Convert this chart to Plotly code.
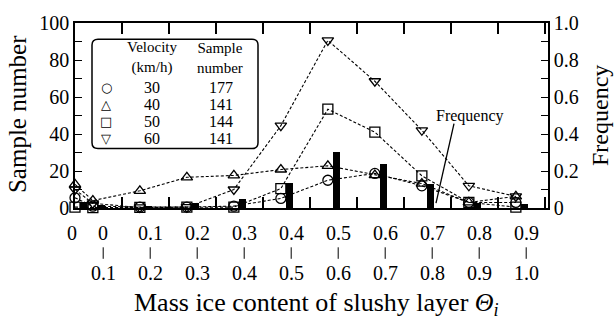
import plotly.graph_objects as go

# ---------------- data ----------------
bin_top = ["0", "0.1", "0.2", "0.3", "0.4", "0.5", "0.6", "0.7", "0.8", "0.9"]
bin_bot = ["0.1", "0.2", "0.3", "0.4", "0.5", "0.6", "0.7", "0.8", "0.9", "1.0"]
zero_label = "0"
# first value = exactly 0 (left edge), then the ten bins
v30 = [5.5, 1, 0.5, 0.5, 1, 5.2, 15, 18.7, 12, 3, 3]
v40 = [12.8, 4, 9.3, 16.6, 17.6, 20.8, 22.8, 17.8, 13.2, 3, 6.3]
v50 = [0.5, 0.2, 0.3, 0.5, 0.5, 10.5, 53.4, 41, 17.4, 3, 0.5]
v60 = [10, 2.5, 0.3, 0.5, 10, 44.5, 90.6, 68.5, 42, 12, 6.3]
freq = [0.03, 0.015, 0.008, 0.025, 0.05, 0.135, 0.305, 0.24, 0.13, 0.025, 0.02]
velocity = ["30", "40", "50", "60"]
samples = ["177", "141", "144", "141"]
left_ticks = [0, 20, 40, 60, 80, 100]
right_ticks = ["0", "0.2", "0.4", "0.6", "0.8", "1.0"]

# ---------------- layout geometry ----------------
L, R, T, B = 75, 548, 15, 208
W, H = 614, 322
UNIT = 47.0  # px per bin
XMAX = (R - L) / UNIT

def px(X):
    return (X - L) / (R - L)

def py(Y):
    return (B - Y) / (B - T)

def dx(xv):
    return L + xv * UNIT

nb = len(bin_top)
x_pts = [0.0] + [k + 0.38 for k in range(nb)]
x_bars = [0.19] + [k + 0.57 for k in range(nb)]

serif = "Liberation Serif, Times New Roman, serif"
fig = go.Figure()

# frequency bars (right axis)
fig.add_trace(go.Bar(x=x_bars, y=freq, width=0.15, marker=dict(color="black", line=dict(width=0)),
                     yaxis="y2", showlegend=False))

series = [(v30, "circle-open"), (v40, "triangle-up-open"), (v50, "square-open"), (v60, "triangle-down-open")]
for vals, sym in series:
    fig.add_trace(go.Scatter(
        x=x_pts, y=vals, mode="lines+markers", cliponaxis=False, showlegend=False,
        line=dict(color="black", width=1.1, dash="3px,2px"),
        marker=dict(symbol=sym, size=10, color="black", line=dict(color="black", width=1.3)),
    ))

# ---------------- annotations ----------------
ann = []
shapes = []

def text(X, Y, s, size, family=serif, angle=0):
    ann.append(dict(x=px(X), y=py(Y), xref="paper", yref="paper", text=s, showarrow=False,
                    textangle=angle, font=dict(family=family, size=size, color="black"),
                    xanchor="center", yanchor="middle"))

text(72, 234, zero_label, 20)
for k in range(nb):
    X = dx(k + 0.6)
    text(X, 234, bin_top[k], 20)
    text(X, 276, bin_bot[k], 20)
    shapes.append(dict(type="line", xref="paper", yref="paper", x0=px(X), x1=px(X), y0=py(249), y1=py(261),
                       line=dict(color="black", width=1)))

# axis titles
text(316, 308, "Mass ice content of slushy layer <i>Θ<sub>i</sub></i>", 26)
text(17, 110, "Sample number", 25, angle=-90)
text(600, 112, "Frequency", 24, angle=-90)

# "Frequency" callout
text(470, 112, "Frequency", 16)

# legend box content
text(152, 51, "Velocity<br>(km/h)", 15)
text(220, 51, "Sample<br>number", 15)
symbols = ["○", "△", "□", "▽"]
row_y = [82, 100, 118, 135]
for i in range(4):
    text(106, row_y[i], "<b>" + symbols[i] + "</b>", 13, family="DejaVu Sans")
    text(152, row_y[i], velocity[i], 16)
    text(221, row_y[i], samples[i], 16)

# rounded legend box
x0, x1, y0, y1, r = 92, 258, 32, 146, 6
def P(X, Y):
    return f"{px(X)},{py(Y)}"
path = (f"M {P(x0 + r, y0)} L {P(x1 - r, y0)} Q {P(x1, y0)} {P(x1, y0 + r)} "
        f"L {P(x1, y1 - r)} Q {P(x1, y1)} {P(x1 - r, y1)} L {P(x0 + r, y1)} "
        f"Q {P(x0, y1)} {P(x0, y1 - r)} L {P(x0, y0 + r)} Q {P(x0, y0)} {P(x0 + r, y0)} Z")
shapes.append(dict(type="path", path=path, xref="paper", yref="paper", line=dict(color="black", width=1.5),
                   fillcolor="white", layer="above"))
shapes.append(dict(type="line", xref="paper", yref="paper", x0=px(454), y0=py(120), x1=px(436), y1=py(203),
                   line=dict(color="black", width=1.3)))

fig.update_layout(
    width=W, height=H, margin=dict(l=L, r=W - R, t=T, b=H - B),
    paper_bgcolor="white", plot_bgcolor="white",
    annotations=ann, shapes=shapes, bargap=0,
    xaxis=dict(range=[0, XMAX], tickvals=list(range(1, nb + 1)), ticks="inside", ticklen=11,
               tickcolor="black", tickwidth=1.5, showticklabels=False, showgrid=False, zeroline=False,
               showline=True, linecolor="black", linewidth=1.5, mirror="ticks"),
    yaxis=dict(range=[0, 100], tickvals=left_ticks, ticktext=[str(v) for v in left_ticks],
               minor=dict(dtick=10, ticks="inside", ticklen=7, tickcolor="black", tickwidth=1.3),
               ticks="inside", ticklen=7, tickcolor="black", tickwidth=1.3, showgrid=False, zeroline=False,
               showline=True, linecolor="black", linewidth=1.5,
               tickfont=dict(family=serif, size=20, color="black")),
    yaxis2=dict(range=[0, 1], overlaying="y", side="right", tickvals=[0, 0.2, 0.4, 0.6, 0.8, 1.0],
                ticktext=right_ticks,
                minor=dict(dtick=0.1, ticks="inside", ticklen=7, tickcolor="black", tickwidth=1.3),
                ticks="inside", ticklen=7, tickcolor="black", tickwidth=1.3, showgrid=False, zeroline=False,
                showline=True, linecolor="black", linewidth=1.5,
                tickfont=dict(family=serif, size=20, color="black")),
)

fig.write_html("out.html")
